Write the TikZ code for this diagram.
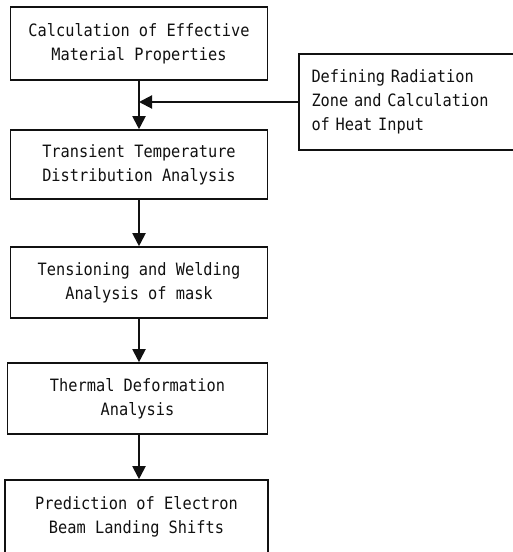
\documentclass[tikz,border=0pt]{standalone}
\usepackage{fontspec}
\setmonofont[FakeStretch=0.9]{DejaVu Sans Mono}
\usetikzlibrary{arrows.meta}
\definecolor{ink}{HTML}{111111}
\tikzset{
  box/.style={draw=ink, line width=1.6pt, fill=white, align=center, inner sep=4pt, font=\ttfamily\fontsize{17}{24}\selectfont, text=ink},
  sidebox/.style={box, align=left, text width=190pt},
  arrow/.style={-{Triangle[length=13pt,width=13pt]}, line width=2pt, draw=ink}
}
\begin{document}
\begin{tikzpicture}[x=1pt,y=1pt]
\useasboundingbox[fill=white] (0,0) rectangle (512,552);
\node[box, minimum width=257pt, minimum height=73pt] (props) at (139,508.5) {Calculation of Effective\\Material Properties};
\node[sidebox, minimum width=215pt, minimum height=96pt] (heat) at (406.5,450) {Defining Radiation\\Zone and Calculation\\of Heat Input};
\node[box, minimum width=257pt, minimum height=69pt] (temp) at (139,387.5) {Transient Temperature\\Distribution Analysis};
\node[box, minimum width=257pt, minimum height=71pt] (weld) at (139,269.5) {Tensioning and Welding\\Analysis of mask};
\node[box, minimum width=260pt, minimum height=71pt] (deform) at (137.5,153.5) {Thermal Deformation\\Analysis};
\node[box, minimum width=263pt, minimum height=73pt] (shift) at (136.5,35.5) {Prediction of Electron\\Beam Landing Shifts};
\draw[arrow] (props.south) -- (props.south |- temp.north);
\draw[arrow] (heat.west) -- (heat.west -| props.south);
\draw[arrow] (temp.south) -- (temp.south |- weld.north);
\draw[arrow] (weld.south) -- (weld.south |- deform.north);
\draw[arrow] (weld.south |- deform.south) -- (weld.south |- shift.north);
\end{tikzpicture}
\end{document}
